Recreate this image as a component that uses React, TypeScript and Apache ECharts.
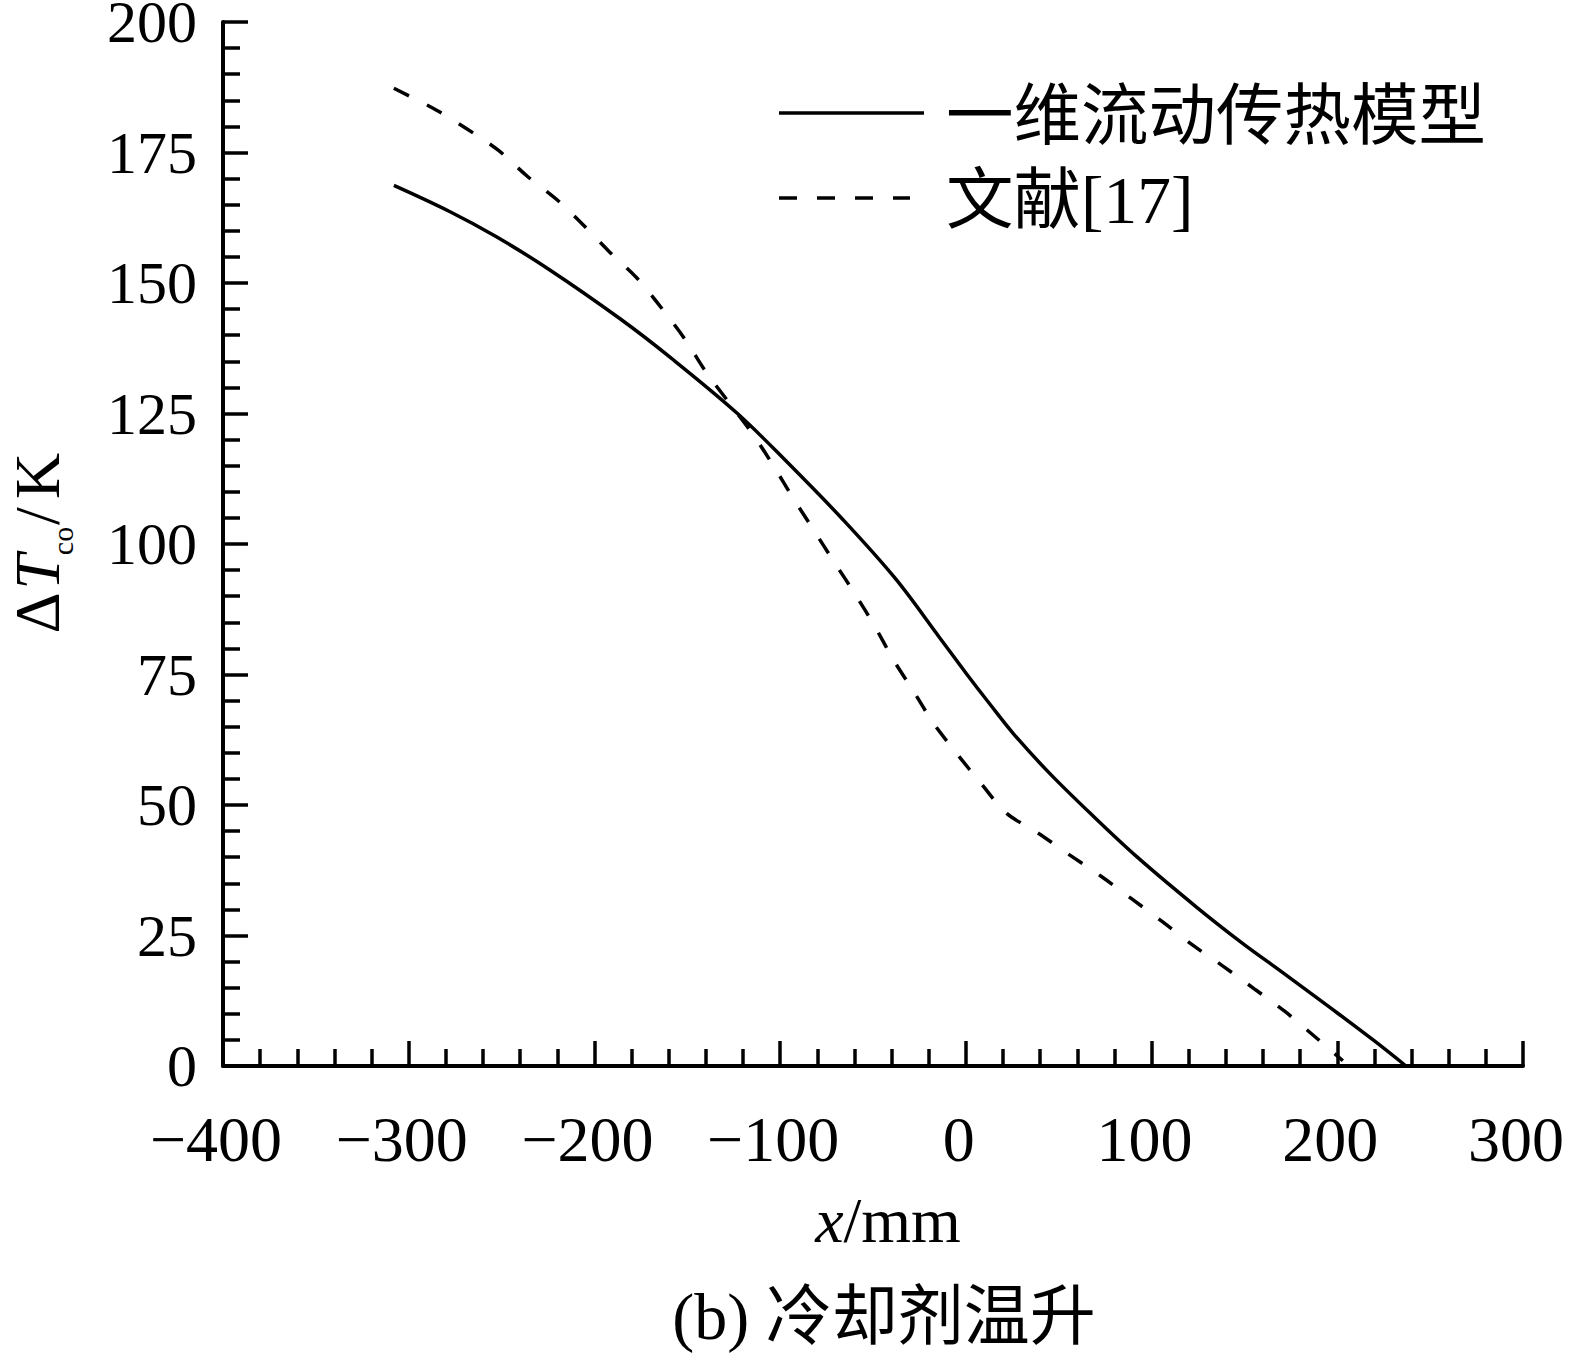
import React, { useEffect, useRef } from "react";
import * as echarts from "echarts";

// ---- data ----
const xTickMin = -400;
const xTickMax = 300;
const yTickMin = 0;
const yTickMax = 200;

const modelName = "一维流动传热模型";
const refName = "文献[17]";

const modelX = [-308, -278, -253, -224, -186, -159, -123, -96, -66, -38, -14, 0, 13, 26, 45, 67, 92, 124, 149, 171, 198, 220, 237];
const modelY = [168.7, 163.7, 158.9, 152.5, 143.1, 135.7, 125.0, 115.6, 104.6, 93.4, 82.0, 75.3, 69.3, 63.5, 56.1, 48.4, 40.1, 30.5, 23.5, 17.8, 10.7, 4.8, 0];

const refX = [-308, -285, -269, -252, -236, -220, -206, -192, -177, -163, -151, -140, -128, -115, -104, -93, -82, -71, -60, -49, -39, -28, -17.5, -5, 8, 22, 39, 56, 73, 89, 106, 122, 139, 156, 172, 188, 203];
const refY = [187.3, 183.1, 179.6, 175.5, 170.4, 165.9, 161.1, 156.0, 150.9, 144.8, 139.1, 133.0, 127.3, 121.2, 115.2, 108.8, 102.7, 96.6, 90.6, 84.2, 77.8, 71.7, 65.7, 59.9, 54.2, 48.4, 44.6, 40.4, 36.3, 32.1, 27.6, 23.2, 19.0, 14.6, 10.4, 5.6, 1.0];

const SERIF = '"Liberation Serif", "Times New Roman", "Noto Sans CJK SC", serif';

function zip(xs: number[], ys: number[]) {
  return xs.map((x, i) => [x, ys[i]]);
}

function txt(text: string, x: number, y: number, fontSize: number, opts: any = {}) {
  const style: any = {
    text,
    fontSize,
    fontFamily: SERIF,
    fontStyle: opts.italic ? "italic" : "normal",
    fill: "#000",
    align: opts.align || "left",
    textAlign: opts.align || "left",
    verticalAlign: "middle",
    textVerticalAlign: "middle",
  };
  if (opts.lineHeight) style.lineHeight = opts.lineHeight;
  const el: any = { type: "text", x, y, style };
  if (opts.rotation) el.rotation = opts.rotation;
  return el;
}

// vertical (rotated) piece of the y-axis title, centred on (x, y)
function vtxt(text: string, x: number, y: number, fontSize: number, italic = false) {
  return txt(text, x, y, fontSize, {
    align: "center",
    italic,
    rotation: Math.PI / 2,
    lineHeight: Math.round(fontSize * 0.7),
  });
}

export default function App() {
  const ref = useRef<HTMLDivElement>(null);

  useEffect(() => {
    if (!ref.current) return;
    const chart = echarts.init(ref.current, undefined, { renderer: "svg" });
    const axisCommon = {
      axisTick: { show: true, inside: true, length: 25, lineStyle: { color: "#000", width: 3.5 } },
      minorTick: { show: true, splitNumber: 5, length: 17, lineStyle: { color: "#000", width: 3.5 } },
      splitLine: { show: false },
      minorSplitLine: { show: false },
    };
    chart.setOption({
      animation: false,
      backgroundColor: "#fff",
      grid: {
        left: 223,
        top: 22,
        width: 1300,
        height: 1044,
        containLabel: false,
        outerBoundsMode: "none",
      },
      xAxis: {
        type: "value",
        min: xTickMin,
        max: xTickMax,
        interval: 100,
        ...axisCommon,
        axisLine: { show: true, onZero: false, lineStyle: { color: "#000", width: 4 } },
        axisLabel: {
          margin: 41,
          fontSize: 64,
          fontFamily: SERIF,
          color: "#000",
          padding: [0, 14, 0, 0],
          formatter: (v: number) => (v < 0 ? "\u2212" + Math.abs(v) : String(v)),
        },
      },
      yAxis: {
        type: "value",
        min: yTickMin,
        max: yTickMax,
        interval: 25,
        ...axisCommon,
        axisLine: { show: true, onZero: false, lineStyle: { color: "#000", width: 4 } },
        axisLabel: { margin: 26, fontSize: 60, fontFamily: SERIF, color: "#000" },
      },
      series: [
        {
          name: modelName,
          type: "line",
          data: zip(modelX, modelY),
          showSymbol: false,
          smooth: 0.35,
          lineStyle: { color: "#000", width: 3.5 },
        },
        {
          name: refName,
          type: "line",
          data: zip(refX, refY),
          showSymbol: false,
          smooth: 0.3,
          lineStyle: { color: "#000", width: 3.5, type: [17, 20] },
        },
      ],
      graphic: [
        // legend
        {
          type: "line",
          shape: { x1: 779, y1: 113, x2: 924, y2: 113 },
          style: { stroke: "#000", lineWidth: 3.5 },
        },
        {
          type: "line",
          shape: { x1: 779, y1: 198, x2: 910, y2: 198 },
          style: { stroke: "#000", lineWidth: 3.5, lineDash: [18, 20] },
        },
        txt(modelName, 946, 116, 67.5),
        txt(refName, 946, 200, 67.5),
        // x axis name
        {
          type: "text",
          x: 888,
          y: 1220,
          style: {
            text: "{i|x}{n|/mm}",
            align: "center",
            textAlign: "center",
            verticalAlign: "middle",
            textVerticalAlign: "middle",
            rich: {
              i: { fontSize: 64, fontFamily: SERIF, fontStyle: "italic", fill: "#000", color: "#000" },
              n: { fontSize: 64, fontFamily: SERIF, fill: "#000", color: "#000" },
            },
          },
        },
        // caption
        txt("(b) 冷却剂温升", 884, 1316, 66, { align: "center" }),
        // y axis name, each piece rotated about its own centre
        vtxt("\u0394", 37, 613, 64),
        vtxt("T", 37, 572, 64, true),
        vtxt("co", 62, 541, 30),
        vtxt("/", 37, 516, 64),
        vtxt("K", 37, 476, 64),
      ],
    });
    return () => chart.dispose();
  }, []);

  return (
    <div
      ref={ref}
      style={{ position: "fixed", left: 0, top: 0, width: 1571, height: 1356, background: "#fff" }}
    />
  );
}
